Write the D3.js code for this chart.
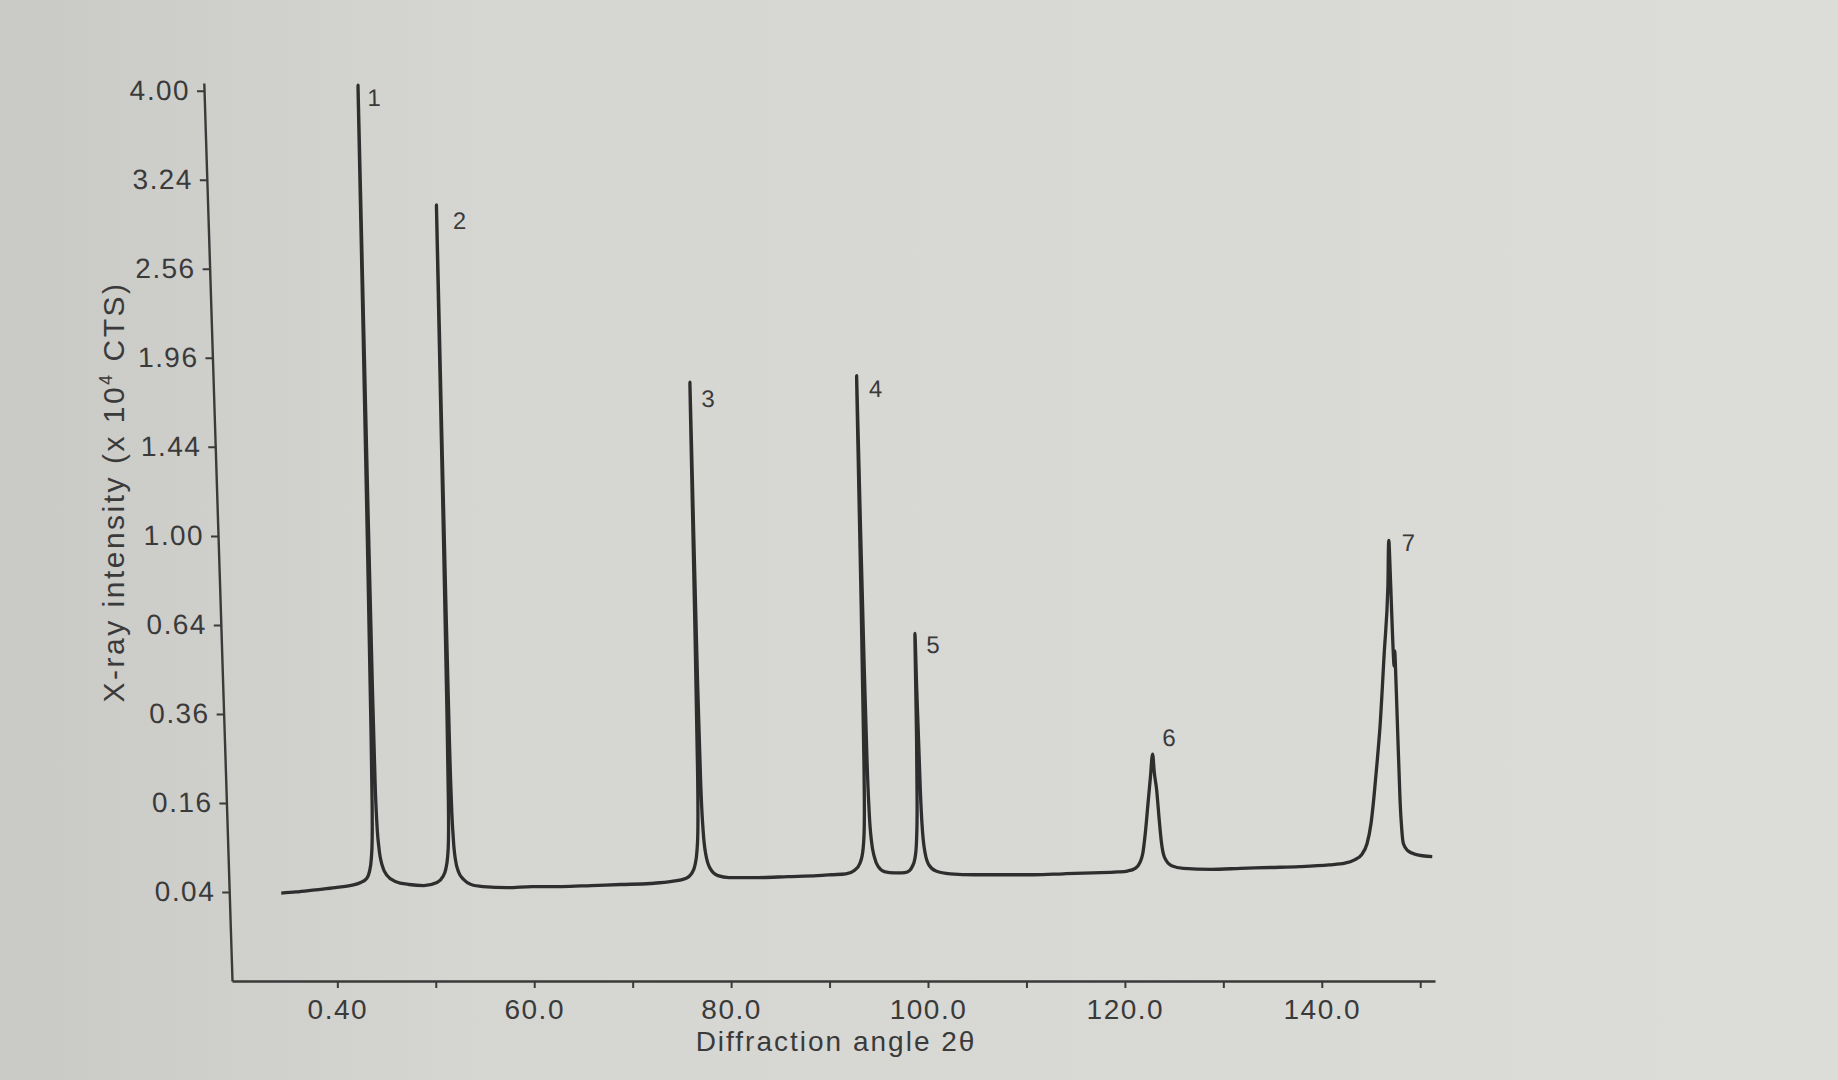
<!DOCTYPE html>
<html>
<head>
<meta charset="utf-8">
<script src="https://cdn.jsdelivr.net/npm/d3@7"></script>
<style>
    html, body { margin: 0; padding: 0; background: #d6d6d3; }
    svg { display: block; }
    text { font-family: "Liberation Sans", Arial, sans-serif; fill: #3a3a3a; }
</style>
</head>
<body>
<script>
// - - - - - - - - - -
// diffraction scan (intensity in 10^4 CTS)
// - - - - - - - - - -
const angle = [
    34.5, 36.0, 38.0, 40.0, 41.5, 42.6,
    43.2, 43.5, 43.72, 43.85, 43.93, 43.98, 44.03, 44.07, 44.1, 44.13, 44.17, 44.22, 44.28, 44.37, 44.52, 44.8, 45.3,
    46.1, 47.5, 49.0, 50.35,
    50.96, 51.26, 51.48, 51.6, 51.68, 51.73, 51.77, 51.8, 51.83, 51.87, 51.92, 51.99, 52.09, 52.26, 52.56, 53.06,
    53.8, 55.0, 57.5, 60.0, 63.0, 66.0, 69.0, 72.0, 74.2,
    75.6, 76.2, 76.57, 76.82, 76.97, 77.06, 77.11, 77.15, 77.2, 77.26, 77.35, 77.49, 77.72, 78.12, 78.9,
    80.0, 83.0, 86.0, 89.0, 90.5,
    91.9, 92.8, 93.35, 93.7, 93.88, 93.98, 94.05, 94.1, 94.16, 94.22, 94.3, 94.4, 94.56, 94.82, 95.2, 95.9,
    96.8, 97.6,
    98.15, 98.65, 98.95, 99.15, 99.29, 99.38, 99.45, 99.51, 99.57, 99.65, 99.77, 100.0, 100.35, 101.05,
    102.5, 105.0, 108.0, 111.0, 114.0, 117.0, 119.5,
    120.5, 121.3, 121.8, 122.1, 122.4, 122.75, 123.05, 123.33, 123.45, 123.65, 123.85, 124.0, 124.3, 125.0,
    126.2, 129.0, 132.0, 135.0, 138.0, 141.0,
    142.6, 143.6, 144.3, 144.9, 145.35, 145.71, 146.1, 146.48, 147.05, 147.6, 147.8, 147.88, 147.96, 148.05,
    148.15, 148.22, 148.28, 148.35, 148.45, 148.6, 149.0, 149.8, 151.5
];
const counts = [
    0.039, 0.040, 0.042, 0.044, 0.046, 0.049,
    0.053, 0.060, 0.075, 0.100, 0.160, 0.320, 0.900, 2.200, 4.050, 2.500, 1.100, 0.420, 0.200, 0.125, 0.090, 0.068, 0.056,
    0.050, 0.047, 0.046, 0.049,
    0.055, 0.063, 0.078, 0.100, 0.160, 0.340, 0.950, 3.040, 1.600, 0.700, 0.300, 0.160, 0.105, 0.075, 0.060, 0.052,
    0.047, 0.045, 0.044, 0.045, 0.045, 0.046, 0.047, 0.048, 0.050,
    0.053, 0.058, 0.067, 0.085, 0.120, 0.220, 0.600, 1.810, 1.000, 0.450, 0.200, 0.115, 0.080, 0.064, 0.056,
    0.054, 0.054, 0.055, 0.056, 0.057,
    0.058, 0.062, 0.070, 0.088, 0.125, 0.240, 0.700, 1.850, 1.000, 0.500, 0.240, 0.145, 0.100, 0.078, 0.066, 0.060,
    0.059, 0.059,
    0.060, 0.066, 0.076, 0.100, 0.160, 0.300, 0.610, 0.420, 0.310, 0.180, 0.115, 0.082, 0.068, 0.061,
    0.058, 0.057, 0.057, 0.057, 0.058, 0.059, 0.060,
    0.061, 0.064, 0.071, 0.082, 0.110, 0.160, 0.210, 0.260, 0.220, 0.185, 0.130, 0.100, 0.077, 0.067,
    0.064, 0.063, 0.064, 0.065, 0.066, 0.068,
    0.070, 0.074, 0.080, 0.095, 0.125, 0.171, 0.240, 0.326, 0.533, 0.788, 0.980, 0.800, 0.600, 0.500,
    0.550, 0.420, 0.280, 0.170, 0.120, 0.095, 0.086, 0.081, 0.078
];

// numbered reflections
const peakIds = ['1', '2', '3', '4', '5', '6', '7'];
const peakAngles = [44.1, 51.8, 77.15, 94.1, 99.45, 123.33, 147.8];
const peakCounts = [4.05, 3.04, 1.81, 1.85, 0.61, 0.26, 0.98];

// axes
const yTicks = [0.04, 0.16, 0.36, 0.64, 1.00, 1.44, 1.96, 2.56, 3.24, 4.00];
const xTicks = [40, 50, 60, 70, 80, 90, 100, 110, 120, 130, 140, 150];
const xLabelAt = [40, 60, 80, 100, 120, 140];
const xLabelText = ['0.40', '60.0', '80.0', '100.0', '120.0', '140.0'];

// - - - - - - - - - -
// layout
// - - - - - - - - - -
const W = 1838, H = 1080;
const labelDx = [9, 16, 11, 12, 11, 10, 13];
const labelDy = [21, 24, 25, 21, 20, -8, 11];

const svg = d3.select('body').append('svg')
    .attr('width', W)
    .attr('height', H);

const grad = svg.append('defs').append('linearGradient')
    .attr('id', 'paper')
    .attr('x1', 0).attr('x2', 1).attr('y1', 0).attr('y2', 0);
grad.append('stop').attr('offset', 0).attr('stop-color', '#c9c9c6');
grad.append('stop').attr('offset', 0.25).attr('stop-color', '#d5d5d2');
grad.append('stop').attr('offset', 1).attr('stop-color', '#dcdcd9');

svg.append('rect')
    .attr('width', W)
    .attr('height', H)
    .attr('fill', 'url(#paper)');

const x = d3.scaleLinear().domain([29.3, 151.5]).range([232, 1435]);
const y = d3.scaleSqrt().domain([0, 4.07]).range([981, 83]);

// the photo leans: the y axis more than the scan itself
const lean = a => 'translate(0,981) skewX(' + a + ') translate(0,-981)';

const xAxis = svg.append('g')
    .attr('color', '#3a3a3a')
    .attr('transform', 'translate(0,981)')
    .call(d3.axisBottom(x)
        .tickValues(xTicks)
        .tickSize(7)
        .tickSizeOuter(0)
        .tickPadding(11)
        .tickFormat(d => {
            const i = xLabelAt.indexOf(d);
            return i < 0 ? '' : xLabelText[i];
        }));

const yAxis = svg.append('g')
    .attr('transform', lean(1.8))
    .attr('color', '#3a3a3a')
    .append('g')
    .attr('transform', 'translate(232,0)')
    .call(d3.axisLeft(y)
        .tickValues(yTicks)
        .tickSize(7)
        .tickSizeOuter(0)
        .tickPadding(7)
        .tickFormat(d3.format('.2f')));

[xAxis, yAxis].forEach(g => {
    g.select('.domain').attr('stroke-width', 2.4);
    g.selectAll('.tick line').attr('stroke-width', 2);
    g.selectAll('.tick text')
        .style('font-size', '28px')
        .style('letter-spacing', '1.5px');
});

const plot = svg.append('g')
    .attr('transform', lean(1.26));

// scan line
plot.append('path')
    .datum(d3.range(angle.length))
    .attr('fill', 'none')
    .attr('stroke', '#2e2e2e')
    .attr('stroke-width', 3.3)
    .attr('stroke-linejoin', 'round')
    .attr('d', d3.line()
        .x(i => x(angle[i]))
        .y(i => y(counts[i]))
        .curve(d3.curveMonotoneX));

plot.selectAll('.peak')
    .data(peakIds)
    .join('text')
    .attr('class', 'peak')
    .attr('x', (d, i) => x(peakAngles[i]) + labelDx[i])
    .attr('y', (d, i) => y(peakCounts[i]) + labelDy[i])
    .style('font-size', '24px')
    .text(d => d);

// - - - - - - - - - -
// axis titles
// - - - - - - - - - -
svg.append('text')
    .attr('x', 836)
    .attr('y', 1051)
    .attr('text-anchor', 'middle')
    .style('font-size', '28px')
    .style('letter-spacing', '2px')
    .text('Diffraction angle 2θ');

const yTitle = svg.append('text')
    .attr('transform', 'translate(124,492) rotate(-90)')
    .attr('text-anchor', 'middle')
    .style('font-size', '30px')
    .style('letter-spacing', '2.5px');
yTitle.append('tspan').text('X-ray intensity (x 10');
yTitle.append('tspan').attr('dy', -12).style('font-size', '18px').text('4');
yTitle.append('tspan').attr('dy', 12).text(' CTS)');
</script>
</body>
</html>
